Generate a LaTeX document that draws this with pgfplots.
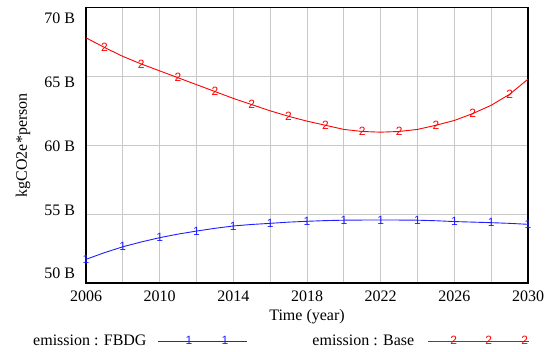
\documentclass[border=0pt]{standalone}
\usepackage{pgfplots}
\pgfplotsset{compat=1.18}
\usepackage{pgfplotstable}
\usepackage{fontspec}
\setmainfont{Liberation Serif}
\newfontfamily\marksans{Liberation Sans}
\definecolor{vblue}{RGB}{30,30,255}
\definecolor{vred}{RGB}{255,0,0}
\definecolor{gridgray}{RGB}{200,200,200}
\newcommand\markfont{\marksans\fontsize{12}{12}\selectfont}
\newcommand\mainfont{\fontsize{16}{19}\selectfont}

\pgfplotstableread{
year base fbdg
2006 67.80 51.72
2007 67.10 52.20
2008 66.45 52.63
2009 65.90 52.98
2010 65.40 53.29
2011 64.90 53.55
2012 64.40 53.77
2013 63.90 53.97
2014 63.40 54.14
2015 62.95 54.25
2016 62.50 54.33
2017 62.10 54.42
2018 61.75 54.48
2019 61.45 54.53
2020 61.15 54.56
2021 61.00 54.57
2022 60.95 54.57
2023 61.00 54.57
2024 61.15 54.56
2025 61.45 54.52
2026 61.80 54.46
2027 62.30 54.42
2028 62.90 54.38
2029 63.70 54.33
2030 64.80 54.26
}\datatable

\begin{document}
\begin{tikzpicture}
\useasboundingbox (0,0) rectangle (551pt,351pt);
\begin{axis}[
  at={(86pt,68pt)}, anchor=south west,
  scale only axis, width=442pt, height=275.5pt,
  xmin=2006, xmax=2030, ymin=50, ymax=70,
  xtick={2006,2008,...,2030},
  xticklabels={2006,,2010,,2014,,2018,,2022,,2026,,2030},
  ytick={50,55,60,65,70},
  yticklabels={,,,,},
  extra y ticks={50.73,55.30,59.94,64.59,69.23},
  extra y tick labels={50 B,55 B,60 B,65 B,70 B},
  extra y tick style={grid=none},
  major tick length=0pt, minor tick length=0pt,
  grid=major,
  grid style={gridgray, line width=0.9pt},
  axis line style={black, line width=1.6pt},
  tick label style={font=\mainfont},
  /pgf/number format/assume math mode=true,
  yticklabel style={xshift=-7.5pt},
  xticklabel style={yshift=-4pt},
  xlabel={Time (year)},
  ylabel={kgCO2e*person},
  label style={font=\mainfont},
  xlabel style={at={(axis description cs:0.5,0)}, anchor=center, yshift=-34pt},
  ylabel style={at={(axis description cs:-0.1425,0.5)}, anchor=center},
  legend columns=2,
  legend plot pos=right,
  legend style={draw=none, fill=none, inner sep=0pt, font=\mainfont,
    at={(axis description cs:-0.1199,-0.2105)}, anchor=west,
    nodes={inner sep=0pt},
    /tikz/every even column/.append style={column sep=65pt}},
  clip=false,
]
\addplot[vblue, line width=0.9pt, mark=text, text mark={1}, text mark as node=true,
  text mark style={font=\markfont, text=vblue, inner sep=0pt},
  mark indices={1,3,5,7,9,11,13,15,17,19,21,23,25},
  legend image code/.code={
    \draw[vblue, line width=0.9pt] (0pt,0pt) -- (89pt,0pt);
    \node[font=\markfont, text=vblue, inner sep=0pt] at (31pt,0pt) {1};
    \node[font=\markfont, text=vblue, inner sep=0pt] at (67pt,0pt) {1};
  }]
  table[x=year, y=fbdg] {\datatable};
\addlegendentry{emission : FBDG\rule{11pt}{0pt}}
\addplot[vred, line width=0.9pt, mark=text, text mark={2}, text mark as node=true,
  text mark style={font=\markfont, text=vred, inner sep=0pt},
  mark indices={2,4,6,8,10,12,14,16,18,20,22,24},
  legend image code/.code={
    \draw[vred, line width=0.9pt] (0pt,0pt) -- (101pt,0pt);
    \node[font=\markfont, text=vred, inner sep=0pt] at (26pt,0pt) {2};
    \node[font=\markfont, text=vred, inner sep=0pt] at (61pt,0pt) {2};
    \node[font=\markfont, text=vred, inner sep=0pt] at (97pt,0pt) {2};
  }]
  table[x=year, y=base] {\datatable};
\addlegendentry{emission : Base\rule{13pt}{0pt}}
\end{axis}
\end{tikzpicture}
\end{document}
